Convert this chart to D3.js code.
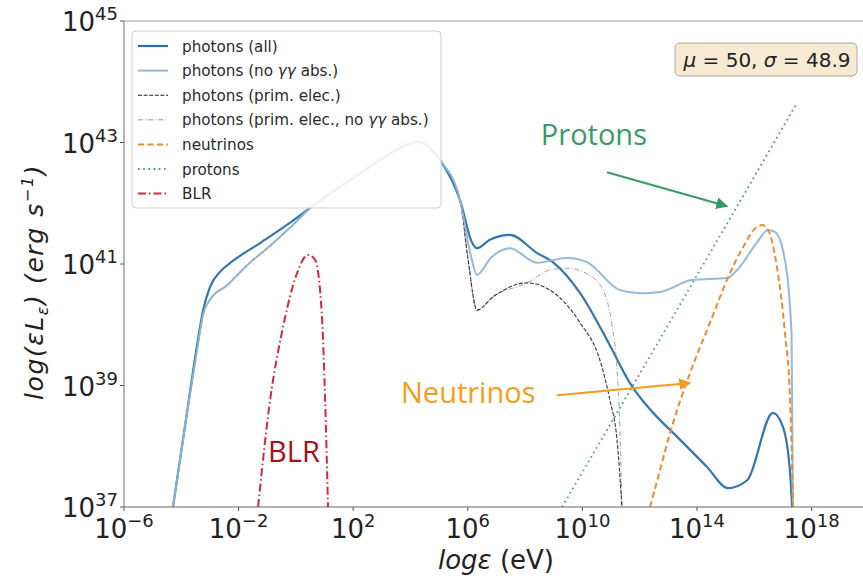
<!DOCTYPE html>
<html>
<head>
<meta charset="utf-8">
<script src="https://cdn.jsdelivr.net/npm/d3@7"></script>
<style>
  html, body { margin: 0; padding: 0; background: #fff; }
  svg { display: block; font-family: "DejaVu Sans", sans-serif; }
</style>
</head>
<body>
<svg id="chart" width="863" height="579"></svg>
<script>
// Spectral energy distribution, log10(energy / eV) vs log10(εLε / erg s^-1)
const photonsAllX = [-4.29,-3.84,-3.42,-3.24,-3.0,-2.65,-2.2,-1.2,-0.2,0.8,1.89,3.0,3.63,4.26,5.03,5.73,6.15,6.32,6.77,7.47,8.42,8.97,9.92,10.86,11.66,12.71,13.06,14.35,15.08,15.75,16.65,17.0,17.25,17.32];
const photonsAllY = [37.0,38.43,39.75,40.24,40.62,40.87,41.05,41.36,41.68,42.03,42.38,42.73,42.91,43.01,42.71,42.05,41.35,41.26,41.40,41.48,41.18,41.03,40.52,39.75,39.04,38.43,38.27,37.66,37.31,37.44,38.55,38.32,37.56,37.0];

const photonsNoAbsX = [-4.29,-3.84,-3.42,-3.24,-3.0,-2.4,-1.7,-0.9,-0.2,0.5,0.8,1.89,3.0,3.63,4.26,5.03,5.73,6.10,6.32,6.80,7.47,8.42,9.46,10.16,11.31,12.01,12.71,13.86,15.05,15.40,16.09,16.48,16.72,17.0,17.30,17.35];
const photonsNoAbsY = [37.0,38.43,39.67,40.17,40.41,40.65,40.98,41.30,41.60,41.92,42.03,42.38,42.73,42.91,43.01,42.71,42.05,41.15,40.82,41.10,41.26,41.02,41.10,41.03,40.57,40.52,40.54,40.74,40.77,40.90,41.35,41.56,41.53,41.23,39.86,37.0];

const primElecX = [-4.29,-3.84,-3.42,-3.24,-3.0,-2.4,-1.7,-0.9,-0.2,0.5,0.8,1.89,3.0,3.63,4.26,5.03,5.73,6.01,6.32,6.88,8.07,8.87,9.92,10.61,10.96,11.21,11.38];
const primElecY = [37.0,38.43,39.67,40.17,40.41,40.65,40.98,41.30,41.60,41.92,42.03,42.38,42.73,42.91,43.01,42.71,42.05,41.07,40.24,40.46,40.69,40.57,40.03,39.42,38.76,38.10,37.0];

const primElecNoAbsX = [-4.29,-3.84,-3.42,-3.24,-3.0,-2.4,-1.7,-0.9,-0.2,0.5,0.8,1.89,3.0,3.63,4.26,5.03,5.73,6.01,6.32,6.88,8.07,8.87,9.46,10.16,10.72,11.03,11.21,11.31,11.38];
const primElecNoAbsY = [37.0,38.43,39.67,40.17,40.41,40.65,40.98,41.30,41.60,41.92,42.03,42.38,42.73,42.91,43.01,42.71,42.05,41.07,40.24,40.46,40.69,40.90,40.93,40.84,40.57,40.0,39.26,38.27,37.0];

const neutrinosX = [12.36,12.71,13.06,13.76,14.45,15.05,15.61,16.09,16.27,16.48,16.79,17.07,17.25,17.32,17.35];
const neutrinosY = [37.0,37.61,38.22,39.21,40.03,40.74,41.28,41.61,41.64,41.56,40.95,39.86,38.76,37.66,37.0];

const protonsX = [9.29,13.0,17.49];
const protonsY = [37.0,40.0,43.65];

const blrX = [-1.32,-0.90,-0.45,0.04,0.42,0.67,0.91,1.02,1.12];
const blrY = [37.0,38.76,39.96,40.85,41.15,41.07,40.13,38.76,37.0];

const xTickExps = [-6,-2,2,6,10,14,18];
const yTickExps = [37,39,41,43,45];

const legendLabels = [
  "photons (all)",
  "photons (no γγ abs.)",
  "photons (prim. elec.)",
  "photons (prim. elec., no γγ abs.)",
  "neutrinos",
  "protons",
  "BLR"
];

const svg = d3.select("#chart");
const plotLeft = 124, plotTop = 21, plotBottom = 507;
const pxPerDecade = 28.65;

const x = d3.scaleLog().domain([1e-6, 1e20]).range([plotLeft, plotLeft + 26 * pxPerDecade]);
const y = d3.scaleLog().domain([1e37, 1e45]).range([plotBottom, plotTop]);
const X = v => x(Math.pow(10, v));
const Y = v => y(Math.pow(10, v));

const defs = svg.append("defs");
defs.append("clipPath").attr("id", "plotClip")
  .append("rect").attr("x", plotLeft).attr("y", plotTop)
  .attr("width", 863 - plotLeft).attr("height", plotBottom - plotTop);

const styles = [
  {color: "#2a6fa8", width: 2.2, dash: null, op: 0.95},
  {color: "#8db6d8", width: 2.0, dash: null, op: 0.95},
  {color: "#222222", width: 1.1, dash: "4,1.6", op: 0.9},
  {color: "#8a8a8a", width: 0.9, dash: "5,2,1,2", op: 0.9},
  {color: "#f08a2c", width: 2.0, dash: "6,3.5", op: 1},
  {color: "#3f9e4f", width: 2.0, dash: "1.6,3.6", op: 0.9},
  {color: "#d3293d", width: 2.0, dash: "8,3,1.5,3", op: 1}
];

const series = [
  [photonsAllX, photonsAllY, 0],
  [primElecNoAbsX, primElecNoAbsY, 3],
  [primElecX, primElecY, 2],
  [photonsNoAbsX, photonsNoAbsY, 1],
  [blrX, blrY, 6],
  [neutrinosX, neutrinosY, 4],
  [protonsX, protonsY, 5]
];

const smooth = d3.line().x(d => X(d[0])).y(d => Y(d[1])).curve(d3.curveMonotoneX);
const straight = d3.line().x(d => X(d[0])).y(d => Y(d[1]));
const plot = svg.append("g").attr("clip-path", "url(#plotClip)");

series.forEach(([xs, ys, si]) => {
  const st = styles[si];
  const pts = xs.map((v, i) => [v, ys[i]]);
  plot.append("path")
    .attr("d", si === 5 ? straight(pts) : smooth(pts))
    .attr("fill", "none")
    .attr("stroke", st.color)
    .attr("stroke-width", st.width)
    .attr("stroke-opacity", st.op)
    .attr("stroke-linejoin", "round")
    .attr("stroke-dasharray", st.dash);
});

// axes spines
svg.append("line").attr("x1", plotLeft).attr("x2", 863).attr("y1", plotTop).attr("y2", plotTop)
  .attr("stroke", "#bbbbbb").attr("stroke-width", 1.5);
svg.append("line").attr("x1", plotLeft).attr("x2", 863).attr("y1", plotBottom).attr("y2", plotBottom)
  .attr("stroke", "#666666").attr("stroke-width", 1.2);
svg.append("line").attr("x1", plotLeft).attr("x2", plotLeft).attr("y1", plotTop).attr("y2", plotBottom)
  .attr("stroke", "#b5b5b5").attr("stroke-width", 2);

// x ticks
xTickExps.forEach(e => {
  const px = X(e);
  svg.append("line").attr("x1", px).attr("x2", px).attr("y1", plotBottom).attr("y2", plotBottom + 4)
    .attr("stroke", "#555").attr("stroke-width", 1);
  const t = svg.append("text").attr("x", px).attr("y", plotBottom + 31)
    .attr("text-anchor", "middle").attr("fill", "#222").attr("font-size", 26);
  t.append("tspan").text("10");
  t.append("tspan").attr("dy", -11).attr("font-size", 18).text(String(e).replace("-", "−"));
});

// y ticks
yTickExps.forEach(e => {
  const py = Y(e);
  svg.append("line").attr("x1", plotLeft - 4).attr("x2", plotLeft).attr("y1", py).attr("y2", py)
    .attr("stroke", "#555").attr("stroke-width", 1);
  const t = svg.append("text").attr("x", plotLeft - 6).attr("y", py + 10)
    .attr("text-anchor", "end").attr("fill", "#222").attr("font-size", 26);
  t.append("tspan").text("10");
  t.append("tspan").attr("dy", -11).attr("font-size", 18).text(String(e));
});

// axis labels
const xl = svg.append("text").attr("x", 496).attr("y", 569).attr("text-anchor", "middle")
  .attr("font-size", 26).attr("fill", "#222");
xl.append("tspan").attr("font-style", "italic").text("logε");
xl.append("tspan").text(" (eV)");

const yl = svg.append("text").attr("transform", "translate(43,282) rotate(-90)")
  .attr("text-anchor", "middle").attr("font-size", 25).attr("fill", "#222")
  .attr("font-style", "italic").attr("letter-spacing", 1.6);
yl.append("tspan").text("log(εL");
yl.append("tspan").attr("dy", 5).attr("font-size", 16).text("ε");
yl.append("tspan").attr("dy", -5).text(") (erg s");
yl.append("tspan").attr("dy", -10).attr("font-size", 16).text("−1");
yl.append("tspan").attr("dy", 10).text(")");

// legend
const lg = svg.append("g");
lg.append("rect").attr("x", 132).attr("y", 31).attr("width", 309).attr("height", 177)
  .attr("rx", 4).attr("fill", "#fff").attr("fill-opacity", 0.85)
  .attr("stroke", "#d0d0d0").attr("stroke-width", 1);
legendLabels.forEach((lab, i) => {
  const st = styles[i];
  const ly = 46 + i * 24.6;
  lg.append("line").attr("x1", 138).attr("x2", 168).attr("y1", ly).attr("y2", ly)
    .attr("stroke", st.color).attr("stroke-width", st.width)
    .attr("stroke-dasharray", st.dash);
  const t = lg.append("text").attr("x", 182).attr("y", ly + 5.5)
    .attr("font-size", 15.2).attr("fill", "#2a2a2a");
  const m = lab.match(/^(.*?)(γγ)(.*)$/);
  if (m) {
    t.append("tspan").text(m[1]);
    t.append("tspan").attr("font-style", "italic").text(m[2]);
    t.append("tspan").text(m[3]);
  } else {
    t.text(lab);
  }
});

// parameter box
svg.append("rect").attr("x", 675).attr("y", 43).attr("width", 182).attr("height", 33)
  .attr("rx", 5).attr("fill", "#f8ebd3").attr("stroke", "#a8a8a8").attr("stroke-width", 1);
const pt = svg.append("text").attr("x", 767).attr("y", 67).attr("text-anchor", "middle")
  .attr("font-size", 20).attr("fill", "#222");
pt.append("tspan").attr("font-style", "italic").text("μ");
pt.append("tspan").text(" = 50, ");
pt.append("tspan").attr("font-style", "italic").text("σ");
pt.append("tspan").text(" = 48.9");

// annotations
const ann = svg.append("g").attr("font-family", "'Open Sans', Lato, sans-serif");
[["arrG", "#3a9a66"], ["arrO", "#f59c1a"]].forEach(([id, c]) => {
  defs.append("marker").attr("id", id).attr("viewBox", "0 0 10 10").attr("refX", 9).attr("refY", 5)
    .attr("markerWidth", 6).attr("markerHeight", 6).attr("orient", "auto")
    .append("path").attr("d", "M0,0 L10,5 L0,10 z").attr("fill", c);
});
ann.append("text").attr("x", X(8.55)).attr("y", Y(42.96)).attr("font-size", 29)
  .attr("fill", "#3a9a66").text("Protons");
ann.append("line").attr("x1", X(10.86)).attr("y1", Y(42.51)).attr("x2", X(15.05)).attr("y2", Y(41.95))
  .attr("stroke", "#3a9a66").attr("stroke-width", 2).attr("marker-end", "url(#arrG)");
ann.append("text").attr("x", X(3.67)).attr("y", Y(38.71)).attr("font-size", 29)
  .attr("fill", "#f59c1a").text("Neutrinos");
ann.append("line").attr("x1", X(9.11)).attr("y1", Y(38.84)).attr("x2", X(13.76)).attr("y2", Y(39.04))
  .attr("stroke", "#f59c1a").attr("stroke-width", 2).attr("marker-end", "url(#arrO)");
ann.append("text").attr("x", X(-0.97)).attr("y", Y(37.74)).attr("font-size", 29)
  .attr("fill", "#a50f15").text("BLR");
</script>
</body>
</html>
